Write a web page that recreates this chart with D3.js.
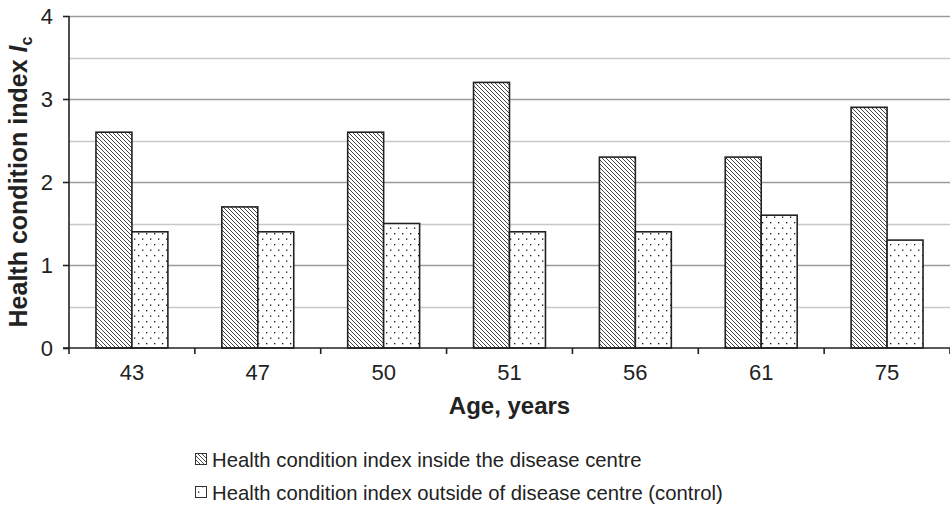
<!DOCTYPE html>
<html>
<head>
<meta charset="utf-8">
<script src="https://cdn.jsdelivr.net/npm/d3@7"></script>
<style>
  body { margin: 0; background: #fff; }
  svg { display: block; font-family: "Liberation Sans", Arial, sans-serif; }
</style>
</head>
<body>
<div id="chart"></div>
<script>
const ages = ["43", "47", "50", "51", "56", "61", "75"];
const inside = [2.6, 1.7, 2.6, 3.2, 2.3, 2.3, 2.9];
const outside = [1.4, 1.4, 1.5, 1.4, 1.4, 1.6, 1.3];
const yTicks = [0, 1, 2, 3, 4];
const gridValues = [0.5, 1, 1.5, 2, 2.5, 3, 3.5, 4];
const seriesNames = [
    "Health condition index inside the disease centre",
    "Health condition index outside of disease centre (control)"
];

const width = 950, height = 507;
const margin = { top: 16, right: 0, bottom: 159, left: 69 };

const svg = d3.select("#chart").append("svg")
    .attr("width", width)
    .attr("height", height);

// patterns
const defs = svg.append("defs");
const hatch = defs.append("pattern")
    .attr("id", "hatch")
    .attr("patternUnits", "userSpaceOnUse")
    .attr("width", 4).attr("height", 4);
hatch.append("rect").attr("width", 4).attr("height", 4).attr("fill", "#fff");
hatch.append("path")
    .attr("d", "M-1,-1 L5,5 M-1,3 L1,5 M3,-1 L5,1")
    .attr("stroke", "#333").attr("stroke-width", 0.9);

const dots = defs.append("pattern")
    .attr("id", "dots")
    .attr("patternUnits", "userSpaceOnUse")
    .attr("width", 8).attr("height", 11);
dots.append("rect").attr("width", 8).attr("height", 11).attr("fill", "#fff");
dots.append("rect").attr("x", 2).attr("y", 2).attr("width", 1.3).attr("height", 1.3).attr("fill", "#111");
dots.append("rect").attr("x", 6).attr("y", 7.5).attr("width", 1.3).attr("height", 1.3).attr("fill", "#111");

const x = d3.scaleBand()
    .domain(ages)
    .range([margin.left, width - margin.right])
    .paddingInner(0)
    .paddingOuter(0);

const y = d3.scaleLinear()
    .domain([0, 4])
    .range([height - margin.bottom, margin.top]);

// gridlines
svg.append("g")
    .selectAll("line")
    .data(gridValues)
    .join("line")
    .attr("x1", margin.left)
    .attr("x2", width)
    .attr("y1", d => Math.round(y(d)) + 0.5)
    .attr("y2", d => Math.round(y(d)) + 0.5)
    .attr("stroke", d => Number.isInteger(d) ? "#9a9a9a" : "#c8c8c8")
    .attr("stroke-width", 1.3);

// bars
const bw = x.bandwidth() * 72 / 126;
const barGroup = svg.append("g");
ages.forEach((a, i) => {
    const cx = x(a) + x.bandwidth() / 2;
    barGroup.append("rect")
        .attr("x", cx - bw / 2)
        .attr("y", y(inside[i]))
        .attr("width", bw / 2)
        .attr("height", y(0) - y(inside[i]))
        .attr("fill", "url(#hatch)")
        .attr("stroke", "#222")
        .attr("stroke-width", 1.6);
    barGroup.append("rect")
        .attr("x", cx)
        .attr("y", y(outside[i]))
        .attr("width", bw / 2)
        .attr("height", y(0) - y(outside[i]))
        .attr("fill", "url(#dots)")
        .attr("stroke", "#222")
        .attr("stroke-width", 1.6);
});

// x axis
const xAxis = d3.axisBottom(x).tickSize(0).tickPadding(16);
const gx = svg.append("g")
    .attr("transform", `translate(0,${y(0)})`)
    .call(xAxis);
gx.select(".domain").attr("stroke", "#222").attr("stroke-width", 1.6)
    .attr("d", `M${margin.left - 6},0H${width}`);
gx.selectAll(".tick text").attr("font-size", 22).attr("fill", "#222")
    .attr("font-family", "Liberation Sans, Arial, sans-serif");
gx.append("g").selectAll("line")
    .data(d3.range(ages.length + 1))
    .join("line")
    .attr("x1", i => margin.left + i * x.bandwidth())
    .attr("x2", i => margin.left + i * x.bandwidth())
    .attr("y1", 0).attr("y2", 6)
    .attr("stroke", "#222").attr("stroke-width", 1.6);

// y axis
const yAxis = d3.axisLeft(y).tickValues(yTicks).tickFormat(d3.format("d")).tickSize(6).tickPadding(10);
const gy = svg.append("g")
    .attr("transform", `translate(${margin.left},0)`)
    .call(yAxis);
gy.select(".domain").attr("stroke", "#222").attr("stroke-width", 1.6).attr("d", `M0,${y(4)}V${y(0)}`);
gy.selectAll(".tick line").attr("stroke", "#222").attr("stroke-width", 1.6);
gy.selectAll(".tick text").attr("font-size", 22).attr("fill", "#222")
    .attr("font-family", "Liberation Sans, Arial, sans-serif");

// axis titles
svg.append("text")
    .attr("x", margin.left + (width - margin.left) / 2)
    .attr("y", 414)
    .attr("text-anchor", "middle")
    .attr("font-size", 24)
    .attr("font-weight", "bold")
    .attr("fill", "#222")
    .text("Age, years");

const yTitle = svg.append("text")
    .attr("transform", `translate(27,${(y(0) + y(4)) / 2}) rotate(-90)`)
    .attr("text-anchor", "middle")
    .attr("font-size", 25)
    .attr("font-weight", "bold")
    .attr("fill", "#222");
yTitle.append("tspan").text("Health condition index ");
yTitle.append("tspan").attr("font-style", "italic").text("I");
yTitle.append("tspan").attr("font-size", 16).attr("dy", 5).text("c");

// legend
const legend = svg.append("g");
seriesNames.forEach((name, i) => {
    const ly = 460 + i * 33;
    legend.append("rect")
        .attr("x", 195.5).attr("y", ly - 6.5)
        .attr("width", 11).attr("height", 11)
        .attr("fill", i === 0 ? "url(#hatch)" : "url(#dots)")
        .attr("stroke", "#333").attr("stroke-width", 1);
    legend.append("text")
        .attr("x", 212)
        .attr("y", ly)
        .attr("dy", "0.35em")
        .attr("font-size", 20.3)
        .attr("fill", "#222")
        .text(name);
});
</script>
</body>
</html>
